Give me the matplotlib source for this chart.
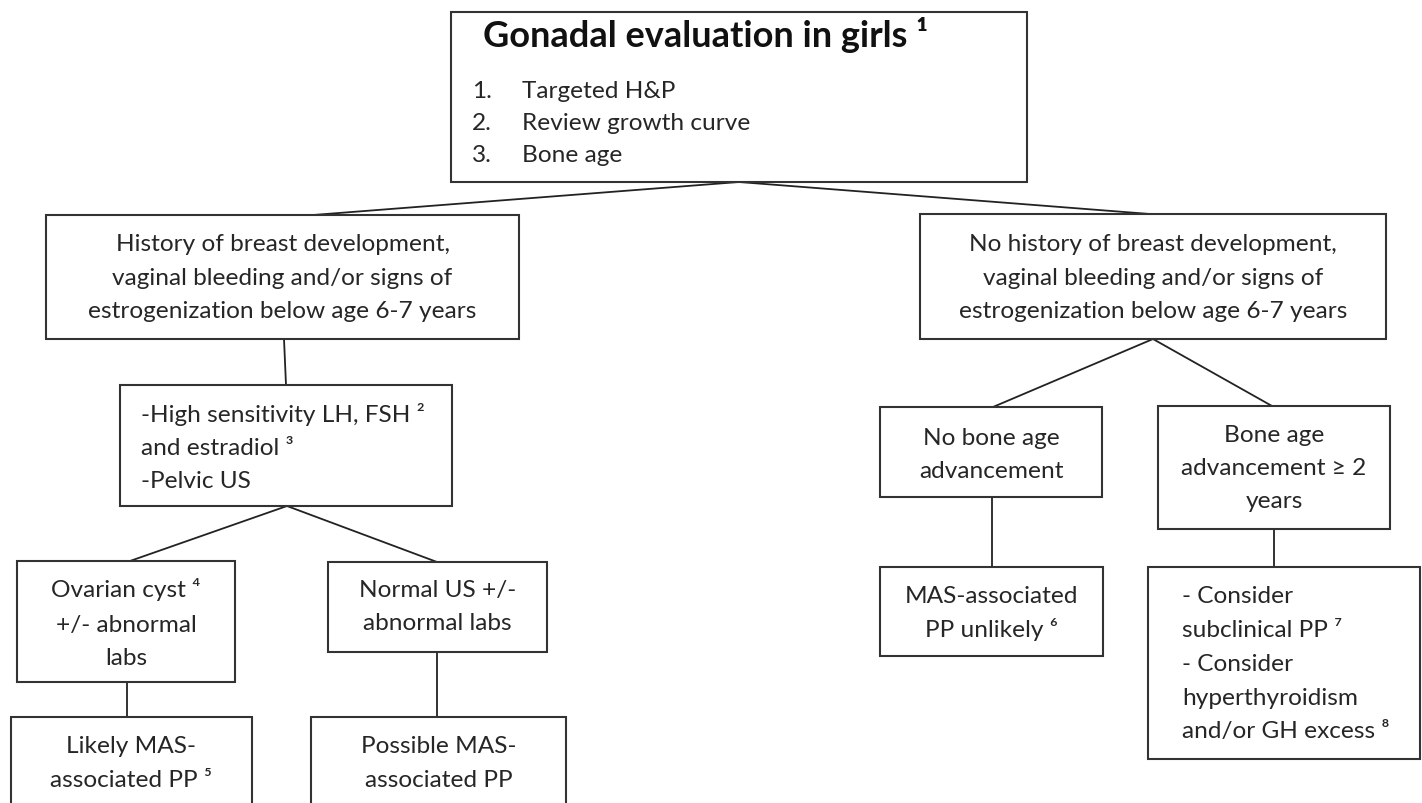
import matplotlib
matplotlib.use("Agg")
import matplotlib.pyplot as plt
from matplotlib.patches import Rectangle

# ---- content (text of each node) ----
title_text = "Gonadal evaluation in girls \u00b9"
top_items = ["Targeted H&P", "Review growth curve", "Bone age"]
node_texts = {
    "A": ["History of breast development,", "vaginal bleeding and/or signs of",
          "estrogenization below age 6-7 years"],
    "B": ["No history of breast development,", "vaginal bleeding and/or signs of",
          "estrogenization below age 6-7 years"],
    "C": ["-High sensitivity LH, FSH \u00b2", "and estradiol \u00b3", "-Pelvic US"],
    "D": ["Ovarian cyst \u2074", "+/- abnormal", "labs"],
    "E": ["Normal US +/-", "abnormal labs"],
    "F": ["Likely MAS-", "associated PP \u2075"],
    "G": ["Possible MAS-", "associated PP"],
    "H": ["No bone age", "advancement"],
    "I": ["Bone age", "advancement \u2265 2", "years"],
    "J": ["MAS-associated", "PP unlikely \u2076"],
    "K": ["- Consider", "subclinical PP \u2077", "- Consider", "hyperthyroidism",
          "and/or GH excess \u2078"],
}
edges = [("T", "A"), ("T", "B"), ("A", "C"), ("C", "D"), ("C", "E"),
         ("D", "F"), ("E", "G"), ("B", "H"), ("B", "I"), ("H", "J"), ("I", "K")]

# ---- layout (pixel boxes: x0, y0, x1, y1) ----
boxes = {
    "T": (451, 13, 1027, 183),
    "A": (46, 216, 519, 340),
    "B": (920, 215, 1386, 340),
    "C": (120, 386, 452, 507),
    "D": (17, 562, 235, 683),
    "E": (328, 563, 547, 653),
    "F": (11, 718, 252, 830),
    "G": (311, 718, 566, 830),
    "H": (880, 408, 1102, 498),
    "I": (1158, 407, 1390, 530),
    "J": (880, 568, 1103, 657),
    "K": (1148, 568, 1420, 760),
}
# attach points (x on parent bottom, x on child top)
attach = {
    ("T", "A"): (739, 313), ("T", "B"): (739, 1150),
    ("A", "C"): (284, 286), ("C", "D"): (287, 130), ("C", "E"): (287, 437),
    ("D", "F"): (127, 127), ("E", "G"): (437, 437),
    ("B", "H"): (1153, 993), ("B", "I"): (1153, 1272),
    ("H", "J"): (992, 992), ("I", "K"): (1274, 1274),
}
# text baselines (pixels)
text_y = {
    "A": [251, 285, 318], "B": [251, 285, 318],
    "C": [422, 455, 488], "D": [597, 632, 665], "E": [597, 630],
    "F": [753, 787], "G": [753, 787], "H": [445, 478], "I": [442, 475, 508],
    "J": [603, 637], "K": [603, 637, 671, 705, 738],
}
left_aligned = {"C": 141, "K": 1182}

W, H = 1422, 804
FAM = ["Lato", "DejaVu Sans"]
FS = 17.6
TXT = "#262626"
EDGE = "#333333"

fig = plt.figure(figsize=(W / 100, H / 100), dpi=100)
ax = fig.add_axes([0, 0, 1, 1])
ax.set_xlim(0, W)
ax.set_ylim(H, 0)
ax.axis("off")

for k, (x0, y0, x1, y1) in boxes.items():
    ax.add_patch(Rectangle((x0, y0), x1 - x0, y1 - y0, facecolor="white",
                           edgecolor=EDGE, linewidth=1.5, zorder=2))

for (p, c) in edges:
    px, cx = attach[(p, c)]
    ax.plot([px, cx], [boxes[p][3], boxes[c][1]], color="#222222",
            linewidth=1.3, zorder=1, solid_capstyle="butt")

# top box content
ax.text(483, 47, title_text, fontsize=26, fontweight="bold", family=FAM,
        ha="left", va="baseline", color="#111111", zorder=3)
for i, (item, y) in enumerate(zip(top_items, [98, 130, 162])):
    ax.text(472, y, f"{i + 1}.", fontsize=FS, family=FAM, ha="left",
            va="baseline", color=TXT, zorder=3)
    ax.text(522, y, item, fontsize=FS, family=FAM, ha="left",
            va="baseline", color=TXT, zorder=3)

for k, lines in node_texts.items():
    x0, y0, x1, y1 = boxes[k]
    for line, y in zip(lines, text_y[k]):
        if k in left_aligned:
            ax.text(left_aligned[k], y, line, fontsize=FS, family=FAM,
                    ha="left", va="baseline", color=TXT, zorder=3)
        else:
            ax.text((x0 + x1) / 2, y, line, fontsize=FS, family=FAM,
                    ha="center", va="baseline", color=TXT, zorder=3)

fig.savefig("out.png", dpi=100, facecolor="white")
